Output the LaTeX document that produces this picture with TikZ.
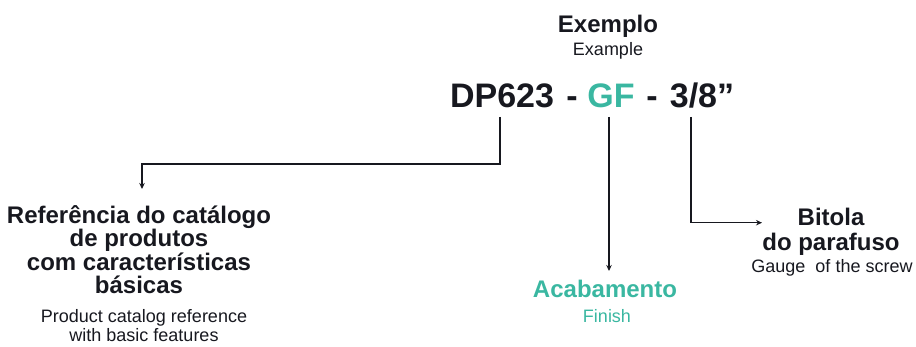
\documentclass[tikz,border=0pt]{standalone}
\usepackage{fontspec}
\setmainfont{Liberation Sans}
\usetikzlibrary{arrows.meta,positioning}
\definecolor{ink}{HTML}{17181F}
\definecolor{mint}{HTML}{3AB7A1}

\begin{document}
\begin{tikzpicture}[x=1pt,y=-1pt,>={Stealth[length=6pt,width=5.5pt]},
  every node/.style={inner sep=0pt,anchor=base,text=ink},
  codetxt/.style={font=\bfseries\fontsize{34}{34}\selectfont},
  headtxt/.style={font=\bfseries\fontsize{24}{23.5}\selectfont,align=center},
  subtxt/.style={font=\fontsize{18}{19.5}\selectfont,align=center},
  conn/.style={draw=ink,line width=1.3pt}]
\useasboundingbox (0,0) rectangle (916,347);
% titulo
\node[headtxt] (exemplo) at (608,33) {Exemplo};
\node[subtxt] (example) at (608,56) {Example};
% codigo
\node[codetxt] (dp) at (502,108) {DP623};
\node[codetxt] (dasha) at (572,108) {-};
\node[codetxt,text=mint] (gf) at (611,108) {GF};
\node[codetxt] (dashb) at (652,108) {-};
\node[codetxt] (gauge) at (702,108) {3/8”};
% rotulos (base = ultima linha)
\node[headtxt] (ref) at (139,294) {Referência do catálogo\\de produtos\\com características\\básicas};
\node[subtxt] (refsub) at (144,342) {Product catalog reference\\with basic features};
\node[headtxt,text=mint] (acab) at (605,298) {Acabamento};
\node[subtxt,text=mint] (finish) at (607,323) {Finish};
\node[headtxt,font=\bfseries\fontsize{24}{25}\selectfont] (bitola) at (831,250.7) {Bitola\\do parafuso};
\node[subtxt] (bitsub) at (832,272.7) {Gauge\ \ of the screw};
% ligacoes
\coordinate (dpout) at ([xshift=-2pt,yshift=-9pt]dp.base);
\coordinate (refin) at ([xshift=3pt,yshift=105pt]ref.base);
\draw[conn,->] (dpout) -- ++(0,47) -| (refin);
\coordinate (gfout) at ([xshift=-2pt,yshift=-9pt]gf.base);
\coordinate (acabin) at ([yshift=27pt]acab.base);
\draw[conn,->] (gfout) -- (gfout |- acabin);
\coordinate (gaugeout) at ([xshift=-11pt,yshift=-9pt]gauge.base);
\coordinate (bitin) at ([xshift=-69pt,yshift=28pt]bitola.base);
\draw[conn,->] (gaugeout) |- (bitin);
\end{tikzpicture}
\end{document}
